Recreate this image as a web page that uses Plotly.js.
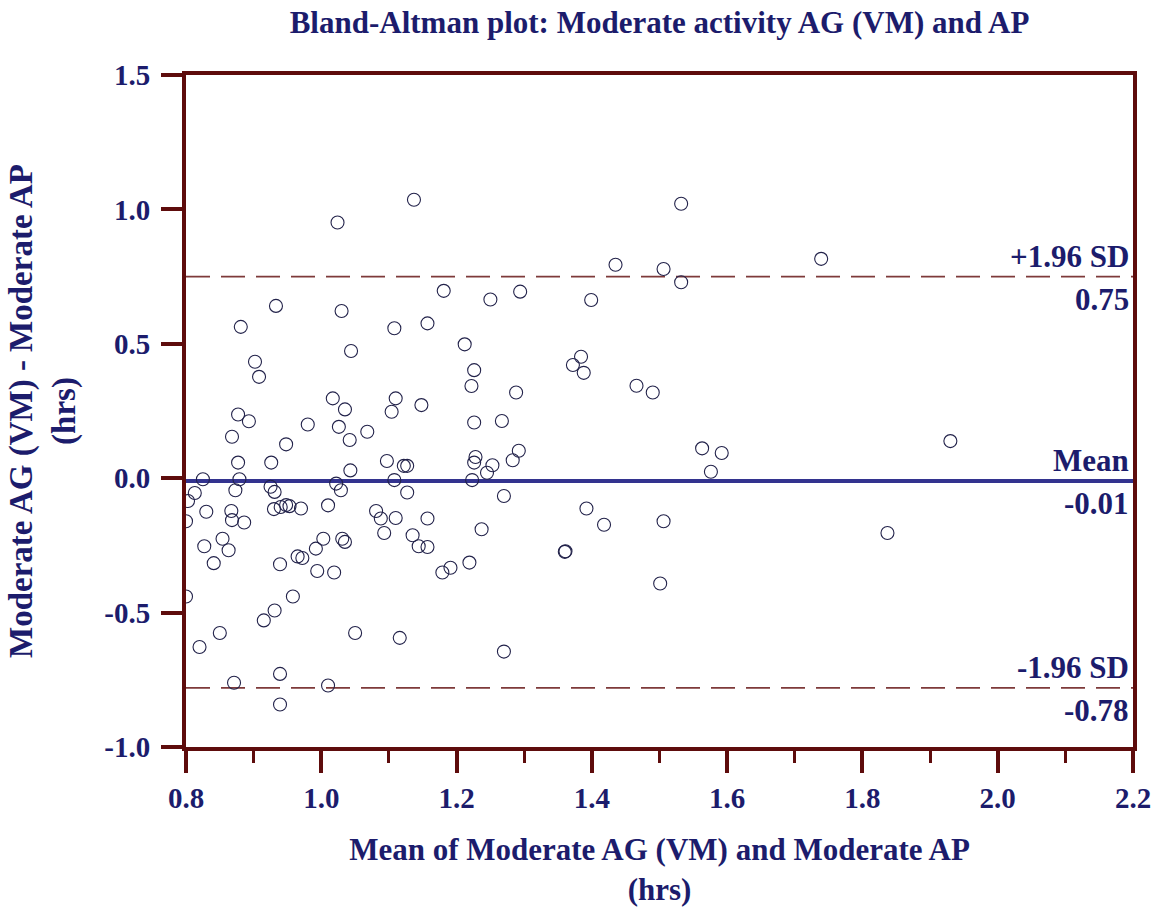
<!DOCTYPE html>
<html>
<head>
<meta charset="utf-8">
<script src="https://cdn.plot.ly/plotly-3.0.1.min.js"></script>
<style>html,body{margin:0;padding:0;background:#fff;}#chart{width:1164px;height:907px;}</style>
</head>
<body>
<div id="chart"></div>
<script>
// Mean of the two methods (hrs)
const meanValues = [
  1.024,1.137,1.181,1.250,0.933,1.030,0.881,1.108,1.157,1.044,
  1.212,0.902,0.908,1.226,1.222,1.017,1.035,1.110,1.104,1.148,
  0.877,0.893,0.980,1.226,1.026,1.068,1.042,0.868,0.948,1.267,
  0.877,0.926,1.043,1.097,1.122,1.127,1.228,1.226,1.253,1.245,
  0.825,0.879,1.022,1.108,1.223,0.813,0.803,0.873,0.925,0.931,
  1.029,1.127,0.800,0.830,0.867,0.868,0.886,0.930,0.940,0.948,
  0.953,0.970,1.010,1.081,1.088,1.110,1.157,1.237,1.270,
  1.093,1.135,1.144,1.157,0.854,0.827,0.863,0.841,0.939,0.965,
  0.972,0.992,1.003,1.031,1.035,0.994,1.019,1.179,1.191,1.219,
  0.800,0.958,0.931,0.915,0.850,1.050,1.116,0.820,0.939,0.871,
  1.010,0.939,1.270,
  1.532,1.435,1.506,1.532,1.294,1.399,1.384,1.372,1.388,1.288,
  1.466,1.490,1.292,1.283,1.563,1.592,1.576,1.392,1.418,1.506,
  1.360,1.361,1.501,1.739,1.930,1.837
];
// Difference AG (VM) - AP (hrs)
const diffValues = [
  0.951,1.036,0.697,0.665,0.641,0.622,0.563,0.558,0.576,0.473,
  0.498,0.433,0.377,0.402,0.343,0.297,0.256,0.297,0.247,0.272,
  0.237,0.212,0.200,0.207,0.191,0.173,0.142,0.154,0.126,0.213,
  0.058,0.058,0.029,0.064,0.046,0.046,0.079,0.058,0.048,0.020,
  -0.004,-0.004,-0.020,-0.007,-0.007,-0.055,-0.085,-0.045,-0.032,-0.051,
  -0.045,-0.053,-0.160,-0.125,-0.122,-0.156,-0.165,-0.115,-0.107,-0.100,
  -0.104,-0.113,-0.101,-0.122,-0.150,-0.148,-0.150,-0.190,-0.066,
  -0.204,-0.212,-0.253,-0.256,-0.225,-0.253,-0.268,-0.316,-0.320,-0.291,
  -0.297,-0.262,-0.225,-0.225,-0.237,-0.345,-0.351,-0.351,-0.333,-0.314,
  -0.440,-0.440,-0.492,-0.529,-0.576,-0.576,-0.594,-0.628,-0.728,-0.761,
  -0.771,-0.842,-0.645,
  1.021,0.794,0.778,0.729,0.694,0.663,0.452,0.421,0.392,0.319,
  0.344,0.319,0.102,0.067,0.111,0.094,0.024,-0.113,-0.173,-0.160,
  -0.274,-0.272,-0.392,0.816,0.138,-0.204
];
// Limits of agreement
const limitValues = [0.75, -0.01, -0.78];
const limitNames = ["+1.96 SD", "Mean", "-1.96 SD"];
const limitTexts = ["0.75", "-0.01", "-0.78"];
// Axis ticks
const xTickValues = [0.8, 1.0, 1.2, 1.4, 1.6, 1.8, 2.0, 2.2];
const xTickLabels = ["0.8", "1.0", "1.2", "1.4", "1.6", "1.8", "2.0", "2.2"];
const yTickValues = [-1.0, -0.5, 0.0, 0.5, 1.0, 1.5];
const yTickLabels = ["-1.0", "-0.5", "0.0", "0.5", "1.0", "1.5"];

const NAVY = "#1c1c6c";
const AXIS = "#5e0c0c";
const FONT = "Liberation Serif, Times New Roman, serif";

const trace = {
  x: meanValues, y: diffValues, type: "scatter", mode: "markers",
  marker: {symbol: "circle-open", size: 13, color: "#22224a", line: {width: 1.1, color: "#22224a"}},
  hoverinfo: "x+y", showlegend: false
};

const shapes = limitValues.map((v, i) => ({
  type: "line", xref: "paper", x0: 0, x1: 1, yref: "y", y0: v, y1: v,
  line: i === 1 ? {color: "#33338f", width: 4} : {color: "#7e3a3a", width: 1.6, dash: "24px,11px"},
  layer: "below"
}));

const annotations = [];
limitValues.forEach((v, i) => {
  annotations.push({xref: "paper", x: 0.998, yref: "y", y: v, xanchor: "right", yanchor: "bottom",
    yshift: 1, text: limitNames[i], showarrow: false, font: {family: FONT, size: 31, color: NAVY, weight: "bold"}});
  annotations.push({xref: "paper", x: 0.998, yref: "y", y: v, xanchor: "right", yanchor: "top",
    yshift: -3, text: limitTexts[i], showarrow: false, font: {family: FONT, size: 31, color: NAVY, weight: "bold"}});
});

const layout = {
  width: 1164, height: 907,
  margin: {l: 186, r: 31, t: 75, b: 160, pad: 0},
  paper_bgcolor: "#ffffff", plot_bgcolor: "#ffffff",
  font: {family: FONT, color: NAVY},
  title: {text: "Bland-Altman plot: Moderate activity AG (VM) and AP", xref: "paper", x: 0.5, xanchor: "center",
    yref: "container", y: 0.976, yanchor: "middle", font: {family: FONT, size: 31, color: NAVY, weight: "bold"}},
  xaxis: {
    range: [0.8, 2.2], tickmode: "array", tickvals: xTickValues, ticktext: xTickLabels,
    ticks: "outside", ticklen: 22, tickwidth: 4, tickcolor: AXIS,
    minor: {tickmode: "linear", tick0: 0.8, dtick: 0.1, ticks: "outside", ticklen: 12, tickwidth: 3, tickcolor: AXIS},
    showline: true, linewidth: 4, linecolor: AXIS, mirror: true,
    showgrid: false, zeroline: false,
    tickfont: {family: FONT, size: 29, color: NAVY, weight: "bold"},
    title: {text: "Mean of Moderate AG (VM) and Moderate AP<br>(hrs)", standoff: 30,
      font: {family: FONT, size: 31, color: NAVY, weight: "bold"}}
  },
  yaxis: {
    range: [-1.0, 1.5], tickmode: "array", tickvals: yTickValues, ticktext: yTickLabels,
    ticks: "outside", ticklen: 21, tickwidth: 4, tickcolor: AXIS, ticklabelstandoff: 5,
    showline: true, linewidth: 4, linecolor: AXIS, mirror: true,
    showgrid: false, zeroline: false,
    tickfont: {family: FONT, size: 29, color: NAVY, weight: "bold"},
    title: {text: "Moderate AG (VM) - Moderate AP<br>(hrs)", standoff: 20,
      font: {family: FONT, size: 33, color: NAVY, weight: "bold"}}
  },
  shapes: shapes,
  annotations: annotations
};

Plotly.newPlot("chart", [trace], layout, {displayModeBar: false, staticPlot: true});
</script>
</body>
</html>
